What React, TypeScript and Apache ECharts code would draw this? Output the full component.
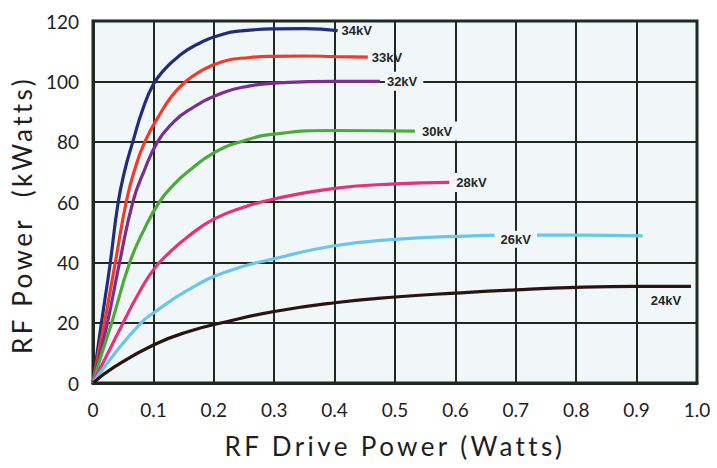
import React, { useEffect, useRef } from "react";
import * as echarts from "echarts";

// Tick labels
const xTickLabels = ["0", "0.1", "0.2", "0.3", "0.4", "0.5", "0.6", "0.7", "0.8", "0.9", "1.0"];
const yTicks = [0, 20, 40, 60, 80, 100, 120];

// Series names (beam voltage)
const seriesNames = ["34kV", "33kV", "32kV", "30kV", "28kV", "26kV", "24kV"];

// RF drive power (W) vs RF output power (kW)
const kv34 = [[0, 0], [0.007, 10], [0.014, 20], [0.028, 39], [0.041, 59], [0.052, 70], [0.066, 80], [0.082, 90.5], [0.1, 99], [0.12, 104.3], [0.14, 108], [0.168, 111.8], [0.215, 115.6], [0.25, 116.8], [0.3, 117.4], [0.35, 117.5], [0.405, 116.8]];
const kv33 = [[0, 0], [0.009, 10], [0.019, 20], [0.037, 40], [0.055, 60], [0.068, 70], [0.086, 80], [0.112, 89.5], [0.13, 95], [0.15, 99.3], [0.175, 103], [0.215, 106.6], [0.26, 107.9], [0.3, 108.3], [0.35, 108.4], [0.4, 108.2], [0.455, 108]];
const kv32 = [[0, 0], [0.012, 10], [0.024, 20], [0.044, 40], [0.066, 60], [0.084, 70], [0.107, 80], [0.13, 85.8], [0.157, 90.3], [0.215, 96.2], [0.26, 98.5], [0.3, 99.4], [0.4, 100], [0.475, 100]];
const kv30 = [[0, 0], [0.015, 10], [0.031, 20], [0.061, 40], [0.085, 51], [0.11, 60], [0.135, 66], [0.157, 70], [0.2, 76.3], [0.25, 80.3], [0.3, 82.5], [0.4, 83.7], [0.533, 83.5]];
const kv28 = [[0, 0], [0.025, 10], [0.05, 20], [0.075, 29.5], [0.1, 37.5], [0.128, 43.5], [0.157, 48.5], [0.2, 54.3], [0.25, 58.3], [0.3, 61], [0.4, 64.5], [0.5, 66], [0.59, 66.5]];
const kv26 = [[0, 0], [0.036, 9.8], [0.08, 20], [0.1, 23.2], [0.157, 30.8], [0.221, 36.9], [0.3, 41.2], [0.4, 45.5], [0.5, 47.6], [0.6, 48.6], [0.7, 49], [0.8, 49], [0.91, 48.8]];
const kv24 = [[0, 0], [0.036, 5.4], [0.1, 12.6], [0.157, 17], [0.221, 20.3], [0.3, 23.7], [0.4, 26.6], [0.5, 28.5], [0.6, 29.8], [0.7, 30.9], [0.8, 31.7], [0.9, 32], [0.99, 32]];

const seriesData = [kv34, kv33, kv32, kv30, kv28, kv26, kv24];
const seriesColors = ["#212d78", "#ef3b2a", "#7b2e8f", "#4ea93c", "#e2347a", "#6cc6ea", "#2a1410"];

const PLOT_BG = "#f1f7f9";
const GRID_COLOR = "#1c2a22";
const NAME_FONT = "Lato, AxisNameFont";

export default function App() {
  const ref = useRef<HTMLDivElement>(null);

  useEffect(() => {
    if (!ref.current) return;
    const chart = echarts.init(ref.current, undefined, { renderer: "svg" });

    const labelStyle = {
      color: "#262626",
      fontFamily: "Liberation Sans",
      fontWeight: "bold" as const,
      fontSize: 13,
    };

    const series: any[] = seriesNames.map((name, i) => {
      const s: any = {
        name,
        type: "line",
        data: seriesData[i],
        smooth: 0.5,
        showSymbol: false,
        symbol: "none",
        lineStyle: { color: seriesColors[i], width: 3.2 },
        itemStyle: { color: seriesColors[i] },
        z: 3,
      };
      if (i <= 4) {
        s.endLabel = {
          show: true,
          formatter: "{a}",
          distance: i >= 2 ? 5 : 4,
          backgroundColor: i >= 2 ? PLOT_BG : "transparent",
          padding: i >= 2 ? [3, 6, 3, 2] : 0,
          ...labelStyle,
        };
      } else {
        const d = seriesData[i];
        const pt = i === 5 ? d[10] : d[d.length - 1];
        s.markPoint = {
          symbol: "rect",
          symbolSize: 1,
          itemStyle: { color: "transparent" },
          silent: true,
          data: [{ coord: pt }],
          label: {
            show: true,
            position: "inside",
            formatter: name,
            offset: i === 5 ? [0, 4] : [-25, 14],
            backgroundColor: PLOT_BG,
            padding: [2, 6],
            ...labelStyle,
          },
        };
      }
      return s;
    });

    chart.setOption({
      animation: false,
      backgroundColor: "#ffffff",
      grid: {
        left: 93,
        right: 20,
        top: 21,
        bottom: 85,
        show: true,
        backgroundColor: PLOT_BG,
        borderColor: GRID_COLOR,
        borderWidth: 3,
      },
      xAxis: {
        type: "value",
        min: 0,
        max: 1,
        interval: 0.1,
        name: "RF Drive Power (Watts)",
        nameLocation: "middle",
        nameGap: 50,
        nameTextStyle: { fontFamily: NAME_FONT, fontSize: 26, color: "#1e1e1e" },
        axisLine: { show: true, lineStyle: { color: GRID_COLOR, width: 3 } },
        axisTick: { show: false },
        splitLine: { show: true, lineStyle: { color: GRID_COLOR, width: 2 } },
        axisLabel: {
          margin: 17,
          fontFamily: "Lato",
          fontSize: 19,
          color: "#1e1e1e",
          formatter: (v: number) => xTickLabels[Math.round(v * 10)] ?? "",
        },
      },
      yAxis: {
        type: "value",
        min: yTicks[0],
        max: yTicks[yTicks.length - 1],
        interval: 20,
        name: "RF Power  (kWatts)",
        nameLocation: "middle",
        nameGap: 51,
        nameTextStyle: { fontFamily: NAME_FONT, fontSize: 26, color: "#1e1e1e", padding: [0, 26, 0, 0] },
        axisLine: { show: true, lineStyle: { color: GRID_COLOR, width: 3 } },
        axisTick: { show: false },
        splitLine: { show: true, lineStyle: { color: GRID_COLOR, width: 2 } },
        axisLabel: {
          margin: 14,
          fontFamily: "Lato",
          fontSize: 19,
          color: "#1e1e1e",
        },
      },
      series,
    });

    return () => chart.dispose();
  }, []);

  return (
    <>
      <style>{`text[style*="AxisNameFont"], text[font-family*="AxisNameFont"] { letter-spacing: 3.4px; }`}</style>
      <div
        ref={ref}
        style={{ position: "absolute", left: 0, top: 0, width: 717, height: 468 }}
      />
    </>
  );
}
